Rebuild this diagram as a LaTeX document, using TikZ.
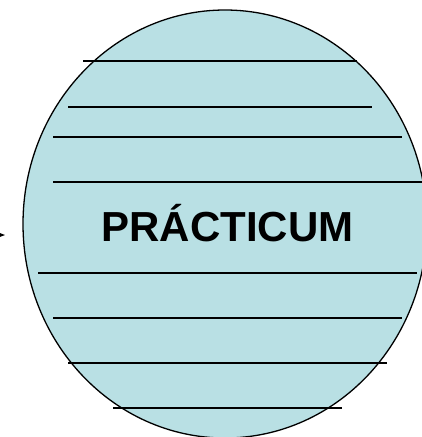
\documentclass[tikz,border=0pt]{standalone}
\usepackage{fontspec}
\setmainfont{Liberation Sans}
\usetikzlibrary{arrows.meta}
\definecolor{paleblue}{RGB}{185,224,228}

\begin{document}
\begin{tikzpicture}[x=1pt,y=-1pt,>=Stealth,rule/.style={line width=1.3pt}]
\useasboundingbox (0,0) rectangle (422,437);
\draw[rule,fill=paleblue] (225,224) ellipse [x radius=202,y radius=214];
\foreach \y/\a/\b in {61/83/357,107/68/372,137/53/402,182/53/428,
  273/38/417,318/53/402,363/68/387,408/113/342}
  \draw[rule] (\a,\y) -- (\b,\y);
\node[anchor=base,inner sep=0pt,font=\fontsize{42}{50}\selectfont\bfseries] (title) at (227.5,241) {PRÁCTICUM};
\coordinate (from) at (-30,235);
\coordinate (to) at (5,235);
\draw[->,line width=1pt] (from)--(to);
\end{tikzpicture}
\end{document}
